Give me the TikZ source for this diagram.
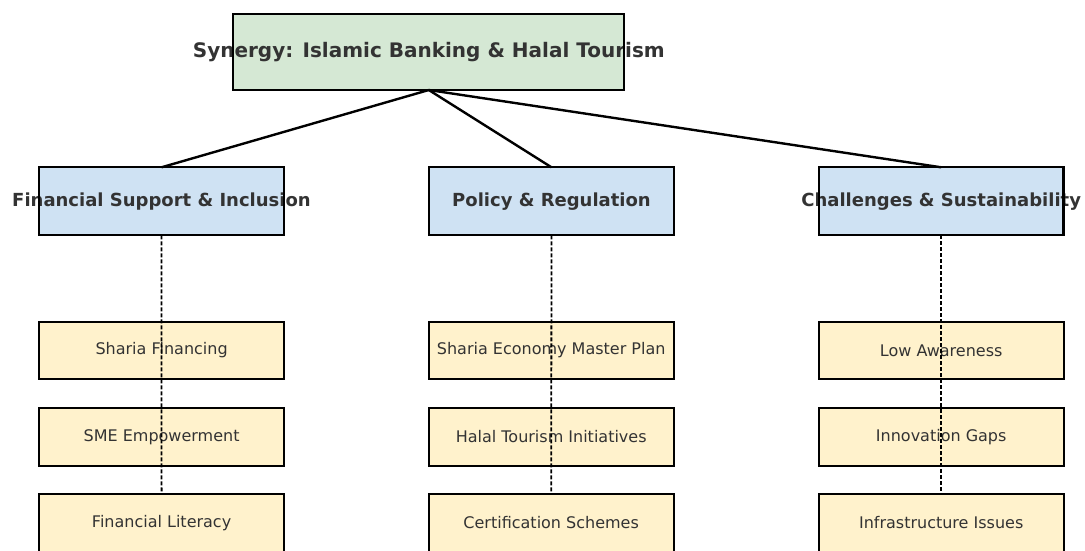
\documentclass[tikz,border=0pt]{standalone}
\usepackage{fontspec}
\setmainfont{DejaVu Sans}
\definecolor{rootfill}{HTML}{D5E8D4}
\definecolor{catfill}{HTML}{CFE2F3}
\definecolor{subfill}{HTML}{FFF2CC}
\definecolor{txt}{HTML}{333333}
\begin{document}
\begin{tikzpicture}[x=1pt,y=-1pt,
  boxbase/.style={draw=black,line width=2.2pt,inner sep=0pt,outer sep=0pt},
  rootbox/.style={boxbase,fill=rootfill,minimum width=391pt,minimum height=76pt},
  catbox/.style={boxbase,fill=catfill,minimum width=244.5pt,minimum height=68pt},
  subbox/.style={boxbase,fill=subfill,minimum width=245pt,minimum height=57.3pt},
  roottxt/.style={text=txt,font=\fontsize{20}{24}\selectfont\bfseries,inner sep=0pt},
  cattxt/.style={text=txt,font=\fontsize{18}{22}\selectfont\bfseries,inner sep=0pt},
  subtxt/.style={text=txt,font=\fontsize{16}{19}\selectfont,inner sep=0pt},
  border/.style={draw=black,line width=2.2pt},
  solidlink/.style={draw=black,line width=2.4pt},
  dashlink/.style={draw=black,line width=1.8pt,dash pattern=on 4pt off 2pt}]
\useasboundingbox (0,0) rectangle (1085,550);
\clip (0,0) rectangle (1085,550);
\fill[white] (0,0) rectangle (1085,550);
% boxes
\node[rootbox] (root) at (428.8,52) {};
\node[catbox] (c1) at (161.5,201.3) {};
\node[catbox] (c2) at (551.5,201.3) {};
\node[catbox] (c3) at (941.2,201.3) {};
\node[subbox] (s11) at (161.6,350.3) {};
\node[subbox] (s12) at (161.6,437) {};
\node[subbox] (s13) at (161.6,523) {};
\node[subbox] (s21) at (551.2,350.3) {};
\node[subbox] (s22) at (551.2,437) {};
\node[subbox] (s23) at (551.2,523) {};
\node[subbox] (s31) at (941.2,350.3) {};
\node[subbox] (s32) at (941.2,437) {};
\node[subbox] (s33) at (941.2,523) {};
% texts
\node[roottxt] (troot) at ([yshift=-0.5pt]root.center) {Synergy: Islamic Banking \& Halal Tourism};
\node[cattxt] (tc1) at (c1.center) {Financial Support \& Inclusion};
\node[cattxt] (tc2) at (c2.center) {Policy \& Regulation};
\node[cattxt] (tc3) at (c3.center) {Challenges \& Sustainability};
\node[subtxt] (ts11) at (s11.center) {Sharia Financing};
\node[subtxt] (ts12) at (s12.center) {SME Empowerment};
\node[subtxt] (ts13) at (s13.center) {Financial Literacy};
\node[subtxt] (ts21) at (s21.center) {Sharia Economy Master Plan};
\node[subtxt] (ts22) at (s22.center) {Halal Tourism Initiatives};
\node[subtxt] (ts23) at (s23.center) {Certification Schemes};
\node[subtxt] (ts31) at (s31.center) {Low Awareness};
\node[subtxt] (ts32) at (s32.center) {Innovation Gaps};
\node[subtxt] (ts33) at (s33.center) {Infrastructure Issues};
% borders over text
\foreach \n in {root,c1,c2,c3}
  \draw[border] (\n.south west) rectangle (\n.north east);
% connectors
\draw[solidlink] (root.south) -- (c1.north);
\draw[solidlink] (root.south) -- (c2.north);
\draw[solidlink] (root.south) -- (c3.north);
\draw[dashlink] (c1.south) -- ([yshift=2.5pt]s13.north);
\draw[dashlink] (c2.south) -- ([yshift=2.5pt]s23.north);
\draw[dashlink] (c3.south) -- ([yshift=2.5pt]s33.north);
\end{tikzpicture}
\end{document}
